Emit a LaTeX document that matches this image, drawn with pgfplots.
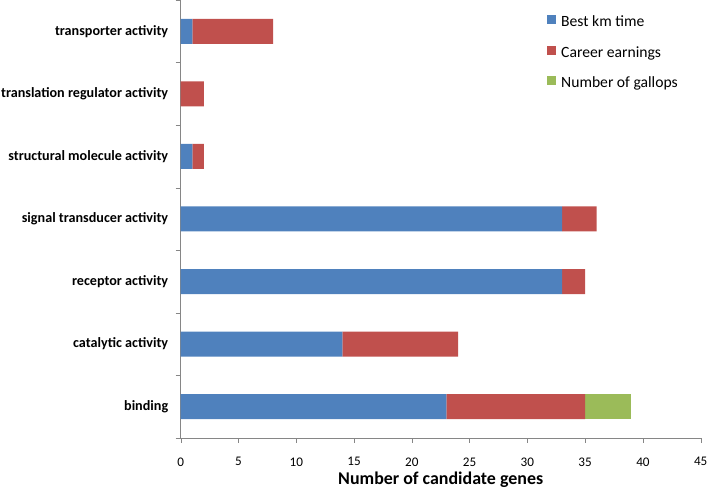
\documentclass[border=0pt]{standalone}
\usepackage{pgfplots}
\pgfplotsset{compat=1.18}
\usepackage{fontspec}
\setmainfont{Carlito}
\definecolor{cblue}{HTML}{4F81BD}
\definecolor{cred}{HTML}{C0504D}
\definecolor{cgreen}{HTML}{9BBB59}
\definecolor{axgray}{HTML}{868686}
\begin{document}
\begin{tikzpicture}
\begin{axis}[
  name=ax,
  scale only axis,
  width=520bp, height=438bp,
  xbar stacked,
  bar width=25bp,
  xmin=0, xmax=45,
  ymin=-0.5, ymax=6.5,
  xtick={0,5,...,45},
  ytick={-0.5,0.5,...,6.5},
  yticklabels={},
  extra y ticks={0,1,2,3,4,5,6},
  extra y tick labels={binding,catalytic activity,receptor activity,signal transducer activity,structural molecule activity,translation regulator activity,transporter activity},
  extra y tick style={major tick length=0pt, yticklabel style={font=\fontsize{14.2}{16}\selectfont\bfseries, xshift=-9bp}},
  tick align=outside,
  major tick length=5bp,
  tick style={draw=axgray},
  axis x line*=bottom,
  axis y line*=left,
  axis line style={draw=axgray, line width=0.8pt},
  /pgf/number format/assume math mode=true,
  xticklabel style={font=\fontsize{13.2}{15}\selectfont, yshift=-11bp},
  xlabel={\bfseries Number of candidate genes},
  xlabel style={font=\fontsize{18}{20}\selectfont, at={(axis description cs:0.5,0)}, anchor=center, yshift=-42bp},
  legend style={at={(0.7044,0.9658)}, anchor=north west, draw=none, fill=none,
    inner sep=0pt, font=\fontsize{15.7}{18}\selectfont, row sep=15bp, column sep=5bp,
    nodes={inner sep=0pt, text height=11bp, text depth=4bp}},
  legend cell align=left,
  legend image code/.code={\fill[#1] (0bp,-1bp) rectangle (9bp,8bp);},
]
\addplot[fill=cblue, draw=none] coordinates {(23,0) (14,1) (33,2) (33,3) (1,4) (0,5) (1,6)};
\addplot[fill=cred, draw=none] coordinates {(12,0) (10,1) (2,2) (3,3) (1,4) (2,5) (7,6)};
\addplot[fill=cgreen, draw=none] coordinates {(4,0) (0,1) (0,2) (0,3) (0,4) (0,5) (0,6)};
\legend{Best km time, Career earnings, Number of gallops}
\end{axis}
\pgfresetboundingbox
\path ([shift={(-180.7bp,-51bp)}]ax.south west) rectangle ([shift={(8.3bp,0bp)}]ax.north east);
\end{tikzpicture}
\end{document}
